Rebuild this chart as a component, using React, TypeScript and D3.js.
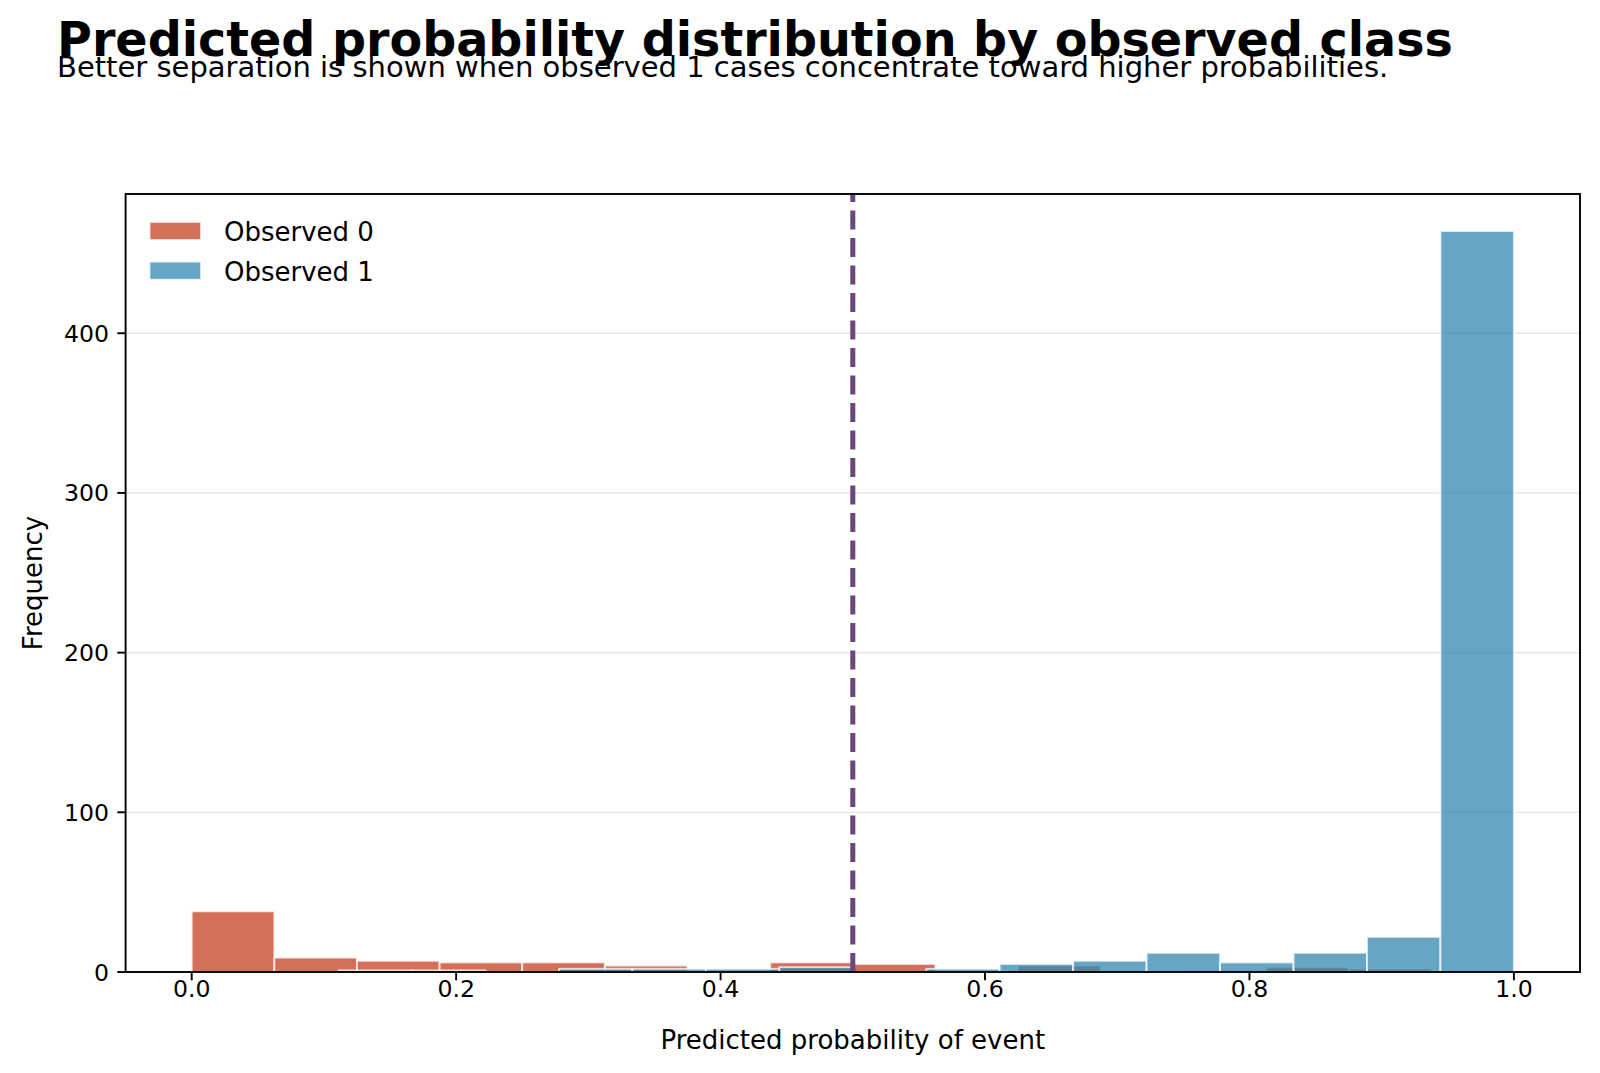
import React from "react";
import * as d3 from "d3";

// histogram counts, equal-width bins over [0, 1]
const observed0Counts = [38, 9, 7, 6, 6, 4, 0, 6, 5, 0, 4, 0, 1, 3, 2, 0];
const observed1Counts = [0, 0, 1, 1, 0, 2, 2, 2, 3, 0, 2, 5, 7, 12, 6, 12, 22, 464];

const xTicks = [0, 0.2, 0.4, 0.6, 0.8, 1.0];
const yTicks = [0, 100, 200, 300, 400];
const threshold = 0.5;

const seriesNames = ["Observed 0", "Observed 1"];
const seriesColors = ["#c64023", "#3288b0"];

const W = 1600;
const H = 1073;
const plot = { left: 125.6, right: 1580, top: 194, bottom: 972 };
const FONT = "'DejaVu Sans', sans-serif";

export default function App() {
  const maxCount = d3.max([...observed0Counts, ...observed1Counts]) as number;

  const x = d3.scaleLinear().domain([-0.05, 1.05]).range([plot.left, plot.right]);
  const y = d3.scaleLinear().domain([0, maxCount * 1.05]).range([plot.bottom, plot.top]);
  const fmt = d3.format(".1f");

  const bars = (counts: number[], color: string, key: string) => {
    const n = counts.length;
    return counts.map((c, i) =>
      c > 0 ? (
        <rect
          key={`${key}-${i}`}
          x={x(i / n)}
          y={y(c)}
          width={x((i + 1) / n) - x(i / n)}
          height={y(0) - y(c)}
          fill={color}
          fillOpacity={0.75}
          stroke="#ffffff"
          strokeOpacity={0.75}
          strokeWidth={1.9}
        />
      ) : null
    );
  };

  return (
    <svg
      width={W}
      height={H}
      style={{ position: "absolute", left: 0, top: 0, background: "#fff" }}
      fontFamily={FONT}
    >
      <rect width={W} height={H} fill="#fff" />

      <text x={57} y={55.5} fontSize={47.6} fontWeight="bold" fill="#000">
        Predicted probability distribution by observed class
      </text>
      <text x={57} y={76.5} fontSize={29} fill="#000">
        Better separation is shown when observed 1 cases concentrate toward higher probabilities.
      </text>

      {/* horizontal grid */}
      {yTicks.map((t) => (
        <line
          key={`g${t}`}
          x1={plot.left}
          x2={plot.right}
          y1={y(t)}
          y2={y(t)}
          stroke="#e4e4e4"
          strokeWidth={1.3}
        />
      ))}

      {bars(observed0Counts, seriesColors[0], "o0")}
      {bars(observed1Counts, seriesColors[1], "o1")}

      {/* decision threshold */}
      <line
        x1={x(threshold)}
        x2={x(threshold)}
        y1={plot.bottom}
        y2={plot.top}
        stroke="#6a4879"
        strokeWidth={5}
        strokeDasharray="19 8.5"
      />

      {/* spines */}
      <rect
        x={plot.left}
        y={plot.top}
        width={plot.right - plot.left}
        height={plot.bottom - plot.top}
        fill="none"
        stroke="#000"
        strokeWidth={1.9}
      />

      {xTicks.map((t) => (
        <g key={`x${t}`} transform={`translate(${x(t)},${plot.bottom})`}>
          <line y2={8.3} stroke="#000" strokeWidth={1.9} />
          <text y={25} textAnchor="middle" fontSize={23.6} fill="#000">
            {fmt(t)}
          </text>
        </g>
      ))}
      {yTicks.map((t) => (
        <g key={`y${t}`} transform={`translate(${plot.left},${y(t)})`}>
          <line x2={-8.3} stroke="#000" strokeWidth={1.9} />
          <text x={-16.6} dy="0.36em" textAnchor="end" fontSize={23.6} fill="#000">
            {t}
          </text>
        </g>
      ))}

      <text x={(plot.left + plot.right) / 2} y={1049} textAnchor="middle" fontSize={26} fill="#000">
        Predicted probability of event
      </text>
      <text
        transform={`translate(42,${(plot.top + plot.bottom) / 2}) rotate(-90)`}
        textAnchor="middle"
        fontSize={26}
        fill="#000"
      >
        Frequency
      </text>

      {/* legend */}
      {seriesNames.map((name, i) => (
        <g key={name} transform={`translate(149.5,${231 + i * 39.7})`}>
          <rect
            x={0}
            y={-9}
            width={51.5}
            height={18}
            fill={seriesColors[i]}
            fillOpacity={0.75}
            stroke="#fff"
            strokeOpacity={0.75}
            strokeWidth={1.9}
          />
          <text x={74.5} y={10} fontSize={26} fill="#000">
            {name}
          </text>
        </g>
      ))}
    </svg>
  );
}
